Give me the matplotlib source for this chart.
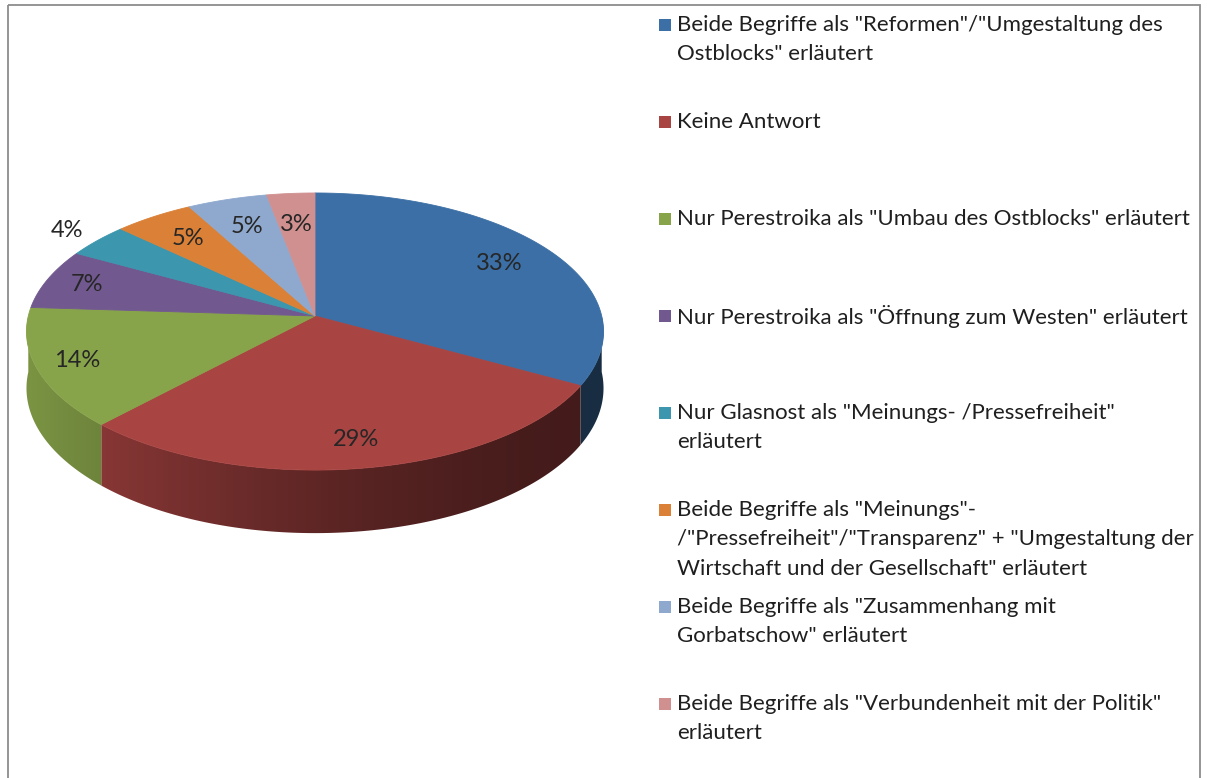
import numpy as np
import matplotlib
matplotlib.use("Agg")
import matplotlib.pyplot as plt
from matplotlib.patches import Rectangle, Polygon
from matplotlib.colors import to_rgb

# ---- data ----
categories = [
    'Beide Begriffe als "Reformen"/"Umgestaltung des\nOstblocks" erläutert',
    'Keine Antwort',
    'Nur Perestroika als "Umbau des Ostblocks" erläutert',
    'Nur Perestroika als "Öffnung zum Westen" erläutert',
    'Nur Glasnost als "Meinungs- /Pressefreiheit"\nerläutert',
    'Beide Begriffe als "Meinungs"-\n/"Pressefreiheit"/"Transparenz" + "Umgestaltung der\nWirtschaft und der Gesellschaft" erläutert',
    'Beide Begriffe als "Zusammenhang mit\nGorbatschow" erläutert',
    'Beide Begriffe als "Verbundenheit mit der Politik"\nerläutert',
]
values = [33, 29, 14, 7, 4, 5, 5, 3]
pct_labels = ["33%", "29%", "14%", "7%", "4%", "5%", "5%", "3%"]

# ---- styles / layout ----
colors = ["#3C6FA5", "#A84442", "#88A44A", "#71588F", "#3B96AE",
          "#DA8137", "#8FA9CE", "#D09090"]
label_r = [0.78, 0.83, 0.86, 0.85, 1.15, 0.77, 0.75, 0.73]
FONT = "Lato"
W, H = 1207, 778
# perspective projection of the pie disc
cx, cy = 315.0, 316.0       # projected centre of the pie
R, B = 286.7, 136.8         # horizontal / vertical scale
K = 0.112                   # perspective strength
D = 56.0                    # thickness

fig = plt.figure(figsize=(W / 100, H / 100), dpi=100)
ax = fig.add_axes([0, 0, 1, 1])
ax.axis("off")

# border
ax.add_patch(Rectangle((8, 5), 1192, 820, fill=False, edgecolor="#8C8C8C", lw=1.3))

def proj(theta_deg, r=1.0, drop=0.0):
    t = np.radians(theta_deg)
    u = r * np.cos(t)
    v = -r * np.sin(t)          # positive towards the viewer
    w = 1.0 - K * v
    return cx + R * u / w, cy + (B * v + drop) / w

total = float(sum(values))
starts, ends = [], []
a = 90.0
for v in values:
    span = 360.0 * v / total
    starts.append(a)
    ends.append(a - span)
    a -= span

def shade_x(x):
    u = np.clip((x - cx) / R, -1, 1)
    s = (1.0 - u) / 2.0
    return 0.40 + 0.50 * s ** 1.6

# side walls (front half: theta in [-180, 0]) with horizontal gradient
gx = np.linspace(cx - R * 1.02, cx + R * 1.02, 600)
for s, e, c in zip(starts, ends, colors):
    lo, hi = max(e, -180.0), min(s, 0.0)
    if hi <= lo:
        continue
    th = np.linspace(hi, lo, max(3, int((hi - lo) * 2)))
    xt, yt = proj(th)
    xb, yb = proj(th[::-1], drop=D)
    verts = list(zip(xt, yt)) + list(zip(xb, yb))
    poly = Polygon(verts, closed=True, facecolor="none", edgecolor="none")
    ax.add_patch(poly)
    base = np.array(to_rgb(c))
    img = np.clip(base[None, None, :] * shade_x(gx)[None, :, None], 0, 1)
    im = ax.imshow(img, extent=(gx[0], gx[-1], cy + B / (1 - K) + D / (1 - K) + 5, cy - B - 5),
                   aspect="auto", interpolation="bilinear", zorder=1)
    im.set_clip_path(poly)

# top wedges
for s, e, c in zip(starts, ends, colors):
    th = np.linspace(s, e, max(3, int(abs(s - e)) * 2))
    xs, ys = proj(th)
    verts = [(cx, cy)] + list(zip(xs, ys))
    ax.add_patch(Polygon(verts, closed=True, facecolor=c, edgecolor=c, lw=0.6, zorder=2))

# percentage labels
for s, e, lab, r in zip(starts, ends, pct_labels, label_r):
    m = (s + e) / 2
    x, y = proj(m, r=r)
    ax.text(x, y, lab, ha="center", va="center", fontsize=17, family=FONT,
            color="#262626", zorder=3)

# legend
entry_y0, entry_step, line_step = 25, 97, 29.3
for i, (lab, c) in enumerate(zip(categories, colors)):
    y = entry_y0 + i * entry_step
    ax.add_patch(Rectangle((659, y - 6), 12, 12, facecolor=c, edgecolor="none"))
    for k, line in enumerate(lab.split("\n")):
        ax.text(677, y + k * line_step, line, ha="left", va="center",
                fontsize=16, family=FONT, color="#1f1f1f")

ax.set_xlim(0, W)
ax.set_ylim(H, 0)
ax.set_aspect("auto")
fig.savefig("out.png", dpi=100)
